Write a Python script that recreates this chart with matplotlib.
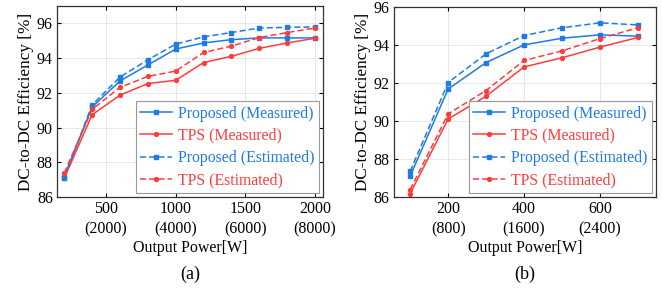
import matplotlib
matplotlib.use("Agg")
import matplotlib.pyplot as plt

plt.rcParams["font.family"] = ["Liberation Serif", "DejaVu Serif"]
plt.rcParams["mathtext.fontset"] = "stix"

BLUE = "#1e7be6"
RED = "#ff3c3c"

# panel (a)
power_a = [200, 400, 600, 800, 1000, 1200, 1400, 1600, 1800, 2000]
prop_meas_a = [87.15, 91.18, 92.68, 93.60, 94.52, 94.87, 95.06, 95.16, 95.16, 95.16]
tps_meas_a = [87.07, 90.73, 91.86, 92.53, 92.72, 93.74, 94.10, 94.56, 94.87, 95.14]
prop_est_a = [87.10, 91.30, 92.90, 93.90, 94.80, 95.22, 95.47, 95.73, 95.77, 95.79]
tps_est_a = [87.38, 91.04, 92.31, 92.94, 93.25, 94.32, 94.69, 95.18, 95.47, 95.73]
xticks_a = [500, 1000, 1500, 2000]
xlabels_a = ["500\n(2000)", "1000\n(4000)", "1500\n(6000)", "2000\n(8000)"]

# panel (b)
power_b = [100, 200, 300, 400, 500, 600, 700]
prop_meas_b = [87.10, 91.68, 93.07, 94.00, 94.35, 94.53, 94.46]
tps_meas_b = [86.18, 90.10, 91.30, 92.84, 93.32, 93.88, 94.39]
prop_est_b = [87.35, 92.02, 93.53, 94.49, 94.90, 95.16, 95.05]
tps_est_b = [86.39, 90.37, 91.60, 93.18, 93.68, 94.33, 94.90]
xticks_b = [200, 400, 600]
xlabels_b = ["200\n(800)", "400\n(1600)", "600\n(2400)"]

yticks = [86, 88, 90, 92, 94, 96]


def draw(ax, x, pm, tm, pe, te, xticks, xlabels, xlim, ylim, caption):
    ax.plot(x, pm, color=BLUE, lw=1.1, marker="s", ms=2.8, label="Proposed (Measured)")
    ax.plot(x, tm, color=RED, lw=1.1, marker="o", ms=2.8, label="TPS (Measured)")
    ax.plot(x, pe, color=BLUE, lw=1.1, ls=(0, (4, 2)), marker="s", ms=2.8,
            label="Proposed (Estimated)")
    ax.plot(x, te, color=RED, lw=1.1, ls=(0, (4, 2)), marker="o", ms=2.8,
            label="TPS (Estimated)")
    ax.set_xlim(*xlim)
    ax.set_ylim(*ylim)
    ax.set_xticks(xticks)
    ax.set_xticklabels(xlabels, linespacing=1.35)
    ax.set_yticks(yticks)
    ax.tick_params(direction="in", top=True, right=True, labelsize=11.5,
                   length=3, width=0.8, pad=3)
    ax.grid(True, color="#e4e4e4", lw=0.6)
    for s in ax.spines.values():
        s.set_linewidth(0.9)
        s.set_color("#333333")
    ax.set_xlabel("Output Power[W]", fontsize=11.5, labelpad=2)
    ax.set_ylabel("DC-to-DC Efficiency [%]", fontsize=12.3, labelpad=2)
    leg = ax.legend(loc="lower right", fontsize=11.3, handlelength=2.0,
                    handletextpad=0.4, labelspacing=0.4, borderpad=0.3,
                    borderaxespad=0.25, fancybox=False, framealpha=1)
    leg.get_frame().set_edgecolor("#999999")
    leg.get_frame().set_linewidth(0.8)
    for t, c in zip(leg.get_texts(), [BLUE, RED, BLUE, RED]):
        t.set_color(c)
    ax.text(0.5, -0.36, caption, transform=ax.transAxes, ha="center", va="top",
            fontsize=13)


fig = plt.figure(figsize=(6.62, 2.98), dpi=100)
ax1 = fig.add_axes([0.086, 0.339, 0.402, 0.641])
ax2 = fig.add_axes([0.595, 0.339, 0.396, 0.638])

draw(ax1, power_a, prop_meas_a, tps_meas_a, prop_est_a, tps_est_a,
     xticks_a, xlabels_a, (148, 2057), (86, 97), "(a)")
draw(ax2, power_b, prop_meas_b, tps_meas_b, prop_est_b, tps_est_b,
     xticks_b, xlabels_b, (57, 748), (86, 96), "(b)")

fig.savefig("out.png", dpi=100)
